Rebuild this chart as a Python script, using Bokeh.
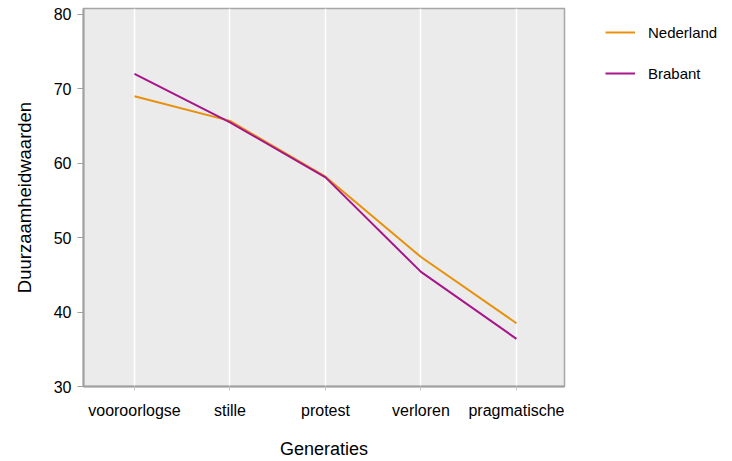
from bokeh.plotting import figure
from bokeh.layouts import row
from bokeh.models import Range1d, FixedTicker, Legend, LegendItem
from bokeh.embed import file_html
from bokeh.resources import INLINE

generations = ["vooroorlogse", "stille", "protest", "verloren", "pragmatische"]
nederland = [69.0, 65.7, 58.2, 47.4, 38.5]
brabant = [72.0, 65.5, 58.1, 45.4, 36.4]
y_ticks = [30, 40, 50, 60, 70, 80]
series_names = ["Nederland", "Brabant"]
series_colors = ["#e8900a", "#a8158a"]

xs = list(range(len(generations)))
FONT = "Liberation Sans"

p = figure(width=566, height=461, output_backend="svg", toolbar_location=None,
           x_range=Range1d(-0.534, 4.503), y_range=Range1d(30, 80.8),
           min_border_left=83, min_border_right=2, min_border_top=8, min_border_bottom=72)

p.background_fill_color = "#ebebeb"
p.border_fill_color = "white"
p.outline_line_color = "#a6a6a6"
p.outline_line_width = 1.5

p.line(xs, nederland, line_color=series_colors[0], line_width=2)
p.line(xs, brabant, line_color=series_colors[1], line_width=2)

# grids
p.xgrid.ticker = FixedTicker(ticks=xs)
p.xgrid.grid_line_color = "white"
p.xgrid.grid_line_width = 1.5
p.ygrid.grid_line_color = None

# x axis
xa = p.xaxis[0]
xa.ticker = FixedTicker(ticks=xs)
xa.major_label_overrides = {i: g for i, g in enumerate(generations)}
xa.axis_label = "Generaties"
xa.axis_line_color = "#a0a0a0"
xa.axis_line_width = 2
xa.major_tick_line_color = "#c8c8c8"
xa.major_tick_out = 4
xa.major_tick_in = 0
xa.minor_tick_line_color = None
xa.major_label_text_font = FONT
xa.major_label_text_font_size = "16px"
xa.major_label_text_color = "black"
xa.major_label_standoff = 11
xa.axis_label_text_font = FONT
xa.axis_label_text_font_size = "18px"
xa.axis_label_text_font_style = "normal"
xa.axis_label_text_color = "black"
xa.axis_label_standoff = 17

# y axis
ya = p.yaxis[0]
ya.ticker = FixedTicker(ticks=y_ticks)
ya.axis_label = "Duurzaamheidwaarden"
ya.axis_line_color = "#a0a0a0"
ya.axis_line_width = 2
ya.major_tick_line_color = "#a0a0a0"
ya.major_tick_out = 6
ya.major_tick_in = 0
ya.minor_tick_line_color = None
ya.major_label_text_font = FONT
ya.major_label_text_font_size = "16px"
ya.major_label_text_color = "black"
ya.major_label_standoff = 6
ya.axis_label_text_font = FONT
ya.axis_label_text_font_size = "18.5px"
ya.axis_label_text_font_style = "normal"
ya.axis_label_text_color = "black"
ya.axis_label_standoff = 16

# legend panel (its frame is aligned with the main plot's frame by the row layout)
pl = figure(width=166, height=461, output_backend="svg", toolbar_location=None,
            x_axis_type=None, y_axis_type=None, min_border=0,
            x_range=Range1d(100, 101), y_range=Range1d(100, 101))
pl.outline_line_color = None
pl.background_fill_color = "white"
items = []
for name, col, vals in zip(series_names, series_colors, [nederland, brabant]):
    rr = pl.line(xs, vals, line_color=col, line_width=2)
    items.append(LegendItem(label=name, renderers=[rr]))

legend = Legend(items=items, location=(39, 303), padding=0, margin=0, spacing=21,
                label_height=20, glyph_height=20, glyph_width=30, label_standoff=13,
                label_text_font=FONT, label_text_font_size="15px",
                label_text_color="black", label_text_baseline="alphabetic",
                background_fill_alpha=0, border_line_color=None)
pl.add_layout(legend)

layout = row(p, pl)
open("out.html", "w").write(file_html(layout, INLINE))
